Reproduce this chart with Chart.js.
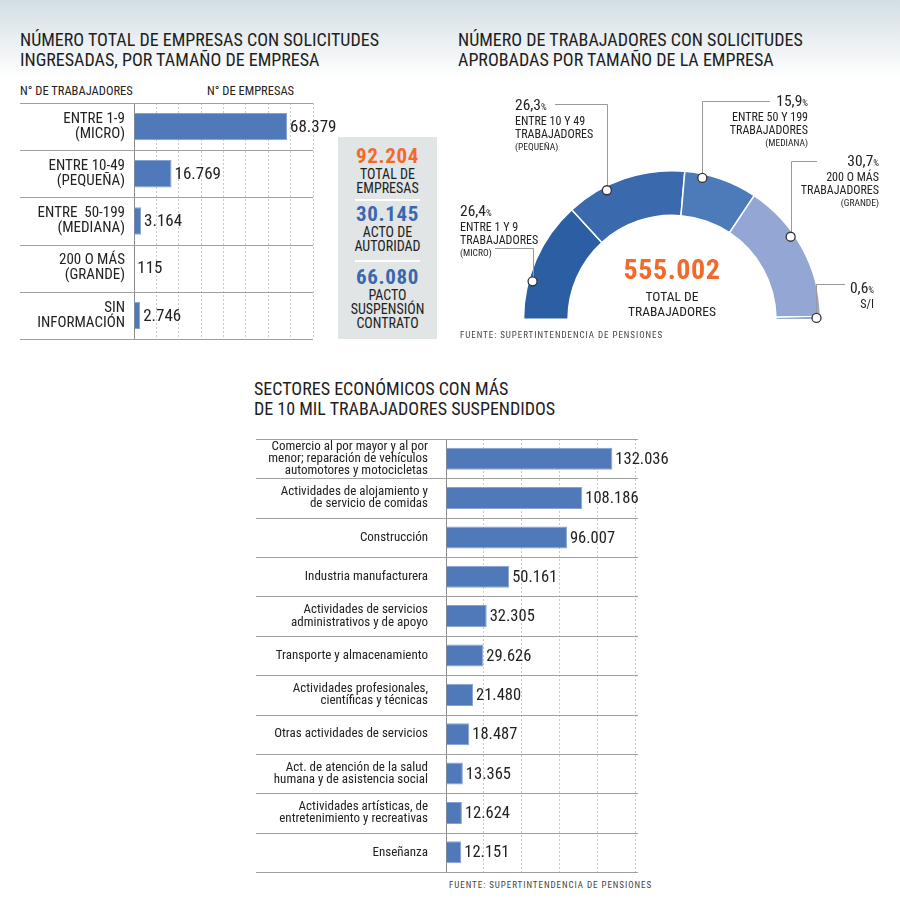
<!DOCTYPE html>
<html lang="es">
<head>
<meta charset="utf-8">
<script src="https://cdn.jsdelivr.net/npm/chart.js@4.4.1/dist/chart.umd.min.js"></script>
<style>
  body { margin: 0; background: #fff; }
  #page { position: relative; width: 900px; height: 908px; overflow: hidden; color: #222;
          font-family: 'Roboto Condensed', 'DejaVu Sans Condensed', sans-serif; }
  .franja { position: absolute; left: 0; top: 0; width: 900px; height: 78px;
            background: linear-gradient(#d3dee4, #ffffff); }
  .titulo { position: absolute; font-size: 18px; line-height: 20px; color: #1e1e1e; white-space: nowrap; }
  .cabecera { position: absolute; font-size: 12.5px; color: #222; white-space: nowrap; }
  .fuente { position: absolute; font-size: 9px; letter-spacing: 0.95px; color: #444; white-space: nowrap; }
  .caja { position: absolute; left: 338px; top: 137px; width: 99px; height: 202px; background: #e1e5e6; }
  .caja .num { position: absolute; left: 0; width: 99px; text-align: center; font-weight: bold; font-size: 21px; line-height: 20px; letter-spacing: 0.6px; }
  .caja .txt { position: absolute; left: 0; width: 99px; text-align: center; font-size: 14px; line-height: 14px; }
  .caja .sep { position: absolute; left: 17px; width: 65px; height: 2px; background: #fff; }
  .etq { position: absolute; white-space: nowrap; color: #222; }
  .etq .p { font-size: 15.5px; line-height: 15px; }
  .etq .p small { font-size: 9px; }
  .etq .l { font-size: 12px; line-height: 13px; }
  .etq .s { font-size: 9.5px; line-height: 12px; }
  .centro { position: absolute; left: 572px; width: 200px; text-align: center; }
  canvas { display: block; }
  .lienzo { position: absolute; }
</style>
</head>
<body>
<div id="page">
  <div class="franja"></div>

  <div class="titulo" style="left:20px; top:30px;">NÚMERO TOTAL DE EMPRESAS CON SOLICITUDES<br>INGRESADAS, POR TAMAÑO DE EMPRESA</div>
  <div class="titulo" style="left:458px; top:30px;">NÚMERO DE TRABAJADORES CON SOLICITUDES<br>APROBADAS POR TAMAÑO DE LA EMPRESA</div>
  <div class="titulo" style="left:254px; top:379px;">SECTORES ECONÓMICOS CON MÁS<br>DE 10 MIL TRABAJADORES SUSPENDIDOS</div>

  <div class="cabecera" style="left:20px; top:83px;">N° DE TRABAJADORES</div>
  <div class="cabecera" style="left:207px; top:83px;">N° DE EMPRESAS</div>

  <div class="lienzo" style="left:20px; top:100px; width:320px; height:242px;"><canvas id="empresas"></canvas></div>
  <div class="caja" id="caja"></div>

  <div class="lienzo" style="left:450px; top:80px; width:450px; height:270px;"><canvas id="trabajadores"></canvas></div>
  <div id="etiquetasDona"></div>
  <div class="centro" style="top:255px; color:#f26a2b; font-weight:bold; font-size:28px; line-height:30px; letter-spacing:0.6px;" id="totalTrab"></div>
  <div class="centro" style="top:289px; font-size:13.5px; line-height:15px;">TOTAL DE<br>TRABAJADORES</div>
  <div class="fuente" style="left:460px; top:330px;">FUENTE: SUPERTINTENDENCIA DE PENSIONES</div>

  <div class="lienzo" style="left:256px; top:436px; width:420px; height:440px;"><canvas id="sectores"></canvas></div>
  <div class="fuente" style="left:449px; top:880px;">FUENTE: SUPERTINTENDENCIA DE PENSIONES</div>
</div>

<script>
// datos: empresas por tamaño
const empresasCategorias = [
  ['ENTRE 1-9', '(MICRO)'],
  ['ENTRE 10-49', '(PEQUEÑA)'],
  ['ENTRE  50-199', '(MEDIANA)'],
  ['200 O MÁS', '(GRANDE)'],
  ['SIN', 'INFORMACIÓN']
];
const empresasValores = [68379, 16769, 3164, 115, 2746];
const empresasEjeMax = 80000;
const empresasEjePaso = 10000;

// datos: recuadro de totales
const resumenTotales = [92204, 30145, 66080];
const resumenEtiquetas = [['TOTAL DE', 'EMPRESAS'], ['ACTO DE', 'AUTORIDAD'], ['PACTO', 'SUSPENSIÓN', 'CONTRATO']];

// datos: trabajadores por tamaño (porcentaje)
const trabajadoresPorcentajes = [26.4, 26.3, 15.9, 30.7, 0.6];
const trabajadoresEtiquetas = [
  ['ENTRE 1 Y 9', 'TRABAJADORES', '(MICRO)'],
  ['ENTRE 10 Y 49', 'TRABAJADORES', '(PEQUEÑA)'],
  ['ENTRE 50 Y 199', 'TRABAJADORES', '(MEDIANA)'],
  ['200 O MÁS', 'TRABAJADORES', '(GRANDE)'],
  ['S/I']
];
const trabajadoresTotal = 555002;

// datos: sectores económicos
const sectoresCategorias = [
  ['Comercio al por mayor y al por', 'menor; reparación de vehículos', 'automotores y motocicletas'],
  ['Actividades de alojamiento y', 'de servicio de comidas'],
  'Construcción',
  'Industria manufacturera',
  ['Actividades de servicios', 'administrativos y de apoyo'],
  'Transporte y almacenamiento',
  ['Actividades profesionales,', 'científicas y técnicas'],
  'Otras actividades de servicios',
  ['Act. de atención de la salud', 'humana y de asistencia social'],
  ['Actividades artísticas, de', 'entretenimiento y recreativas'],
  'Enseñanza'
];
const sectoresValores = [132036, 108186, 96007, 50161, 32305, 29626, 21480, 18487, 13365, 12624, 12151];
const sectoresEjeMax = 150000;
const sectoresEjePaso = 30000;

const FUENTE = "'Roboto Condensed', 'DejaVu Sans Condensed', sans-serif";
const AZUL = '#5079b9';
const NARANJA = '#f26a2b';

Chart.defaults.font.family = FUENTE;
Chart.defaults.color = '#222';

function miles(v) {
  return String(v).replace(/\B(?=(\d{3})+(?!\d))/g, '.');
}
function coma(v) {
  return String(v).replace('.', ',');
}

// lineas de fila que cruzan tambien la zona de etiquetas
const lineasFila = {
  id: 'lineasFila',
  beforeDatasetsDraw(chart, args, opts) {
    const ctx = chart.ctx;
    const y = chart.scales.y;
    const n = chart.data.labels.length;
    const area = chart.chartArea;
    ctx.save();
    ctx.strokeStyle = opts.color || '#9a9a9a';
    ctx.lineWidth = 1;
    for (let i = 0; i <= n; i++) {
      let py;
      if (i === 0) py = area.top;
      else if (i === n) py = area.bottom;
      else py = (y.getPixelForValue(i - 1) + y.getPixelForValue(i)) / 2;
      py = Math.round(py) + 0.5;
      ctx.beginPath();
      ctx.moveTo(opts.left, py);
      ctx.lineTo(area.right + (opts.extra || 0), py);
      ctx.stroke();
    }
    ctx.restore();
  }
};

// valor al lado de cada barra
const valoresBarra = {
  id: 'valoresBarra',
  afterDatasetsDraw(chart, args, opts) {
    const ctx = chart.ctx;
    const meta = chart.getDatasetMeta(0);
    const datos = chart.data.datasets[0].data;
    ctx.save();
    ctx.font = opts.size + 'px ' + FUENTE;
    ctx.fillStyle = '#222';
    ctx.textBaseline = 'middle';
    meta.data.forEach((bar, i) => {
      ctx.fillText(miles(datos[i]), bar.x + 3, bar.y + 1);
    });
    ctx.restore();
  }
};

function barrasHorizontales(id, categorias, valores, cfg) {
  return new Chart(document.getElementById(id), {
    type: 'bar',
    data: {
      labels: categorias,
      datasets: [{
        data: valores,
        backgroundColor: AZUL,
        borderColor: '#86a3d3',
        borderWidth: 1,
        barPercentage: cfg.barPct,
        categoryPercentage: 1
      }]
    },
    options: {
      indexAxis: 'y',
      responsive: true,
      maintainAspectRatio: false,
      animation: false,
      layout: { padding: cfg.padding },
      plugins: {
        legend: { display: false },
        tooltip: { enabled: false },
        lineasFila: { left: cfg.lineLeft, extra: cfg.lineExtra, color: '#a0a0a0' },
        valoresBarra: { size: cfg.valueSize }
      },
      scales: {
        x: {
          min: 0,
          max: cfg.max,
          ticks: { display: false, stepSize: cfg.step },
          grid: {
            drawTicks: false,
            color: c => (c.tick && c.tick.value === 0) ? 'rgba(0,0,0,0)' : '#c9c9c9'
          },
          border: { display: false, dash: [2, 2] },
          afterFit: s => { s.height = 0; s.paddingLeft = 0; s.paddingRight = 0; }
        },
        y: {
          grid: { display: false, drawTicks: false },
          border: { display: true, color: '#8c8c8c', width: 1 },
          ticks: {
            color: '#222',
            autoSkip: false,
            padding: cfg.tickPad,
            font: { size: cfg.labelSize, lineHeight: cfg.labelLine }
          },
          afterFit: s => { s.width = cfg.axisWidth; s.paddingTop = 0; s.paddingBottom = 0; }
        }
      }
    },
    plugins: [lineasFila, valoresBarra]
  });
}

barrasHorizontales('empresas', empresasCategorias, empresasValores, {
  max: empresasEjeMax, step: empresasEjePaso, barPct: 0.58,
  padding: { left: 0, right: 27, top: 3, bottom: 3 },
  axisWidth: 114, tickPad: 9, labelSize: 15, labelLine: 1.0,
  lineLeft: 0, lineExtra: 0, valueSize: 17
});

barrasHorizontales('sectores', sectoresCategorias, sectoresValores, {
  max: sectoresEjeMax, step: sectoresEjePaso, barPct: 0.56,
  padding: { left: 0, right: 41, top: 3, bottom: 4 },
  axisWidth: 190, tickPad: 18, labelSize: 13, labelLine: 0.95,
  lineLeft: 0, lineExtra: 3, valueSize: 16.5
});

// recuadro de totales
(function () {
  const caja = document.getElementById('caja');
  const colores = [NARANJA, '#3b68ad', '#3b68ad'];
  const topsNum = [9, 67, 130];
  const topsSep = [62, 123];
  let html = '';
  resumenTotales.forEach((v, i) => {
    html += '<div class="num" style="top:' + topsNum[i] + 'px;color:' + colores[i] + '">' + miles(v) + '</div>';
    html += '<div class="txt" style="top:' + (topsNum[i] + 21) + 'px">' + resumenEtiquetas[i].join('<br>') + '</div>';
  });
  topsSep.forEach(t => { html += '<div class="sep" style="top:' + t + 'px"></div>'; });
  caja.innerHTML = html;
})();

// dona de trabajadores
const donaColores = ['#2c5ea4', '#3a69ad', '#4d7bba', '#94a6d3', '#2c5ea4'];
const donaMarcas = [0.32, 0.33, 0.25, 0.39, 0.5];
const donaAnclas = [
  { x: 495, y: 248 }, { x: 555, y: 104 }, { x: 770, y: 101 }, { x: 817, y: 161 }, { x: 845, y: 284 }
];
const donaPosEtq = [
  { left: 460, top: 204, align: 'left' },
  { left: 515, top: 98, align: 'left' },
  { right: 808, top: 94, align: 'right' },
  { right: 879, top: 154, align: 'right' },
  { right: 874, top: 281, align: 'right' }
];
const lienzoDona = { x: 450, y: 80 };

const marcasDona = {
  id: 'marcasDona',
  afterDatasetsDraw(chart) {
    const ctx = chart.ctx;
    const meta = chart.getDatasetMeta(0);
    ctx.save();
    meta.data.forEach((arc, i) => {
      const p = arc.getProps(['x', 'y', 'startAngle', 'endAngle', 'outerRadius']);
      const a = p.startAngle + (p.endAngle - p.startAngle) * donaMarcas[i];
      const r = p.outerRadius - 4;
      const mx = p.x + Math.cos(a) * r;
      const my = p.y + Math.sin(a) * r;
      const ax = donaAnclas[i].x - lienzoDona.x;
      const ay = donaAnclas[i].y - lienzoDona.y;
      ctx.strokeStyle = '#9a9a9a';
      ctx.lineWidth = 1;
      ctx.beginPath();
      ctx.moveTo(Math.round(mx) + 0.5, my);
      ctx.lineTo(Math.round(mx) + 0.5, Math.round(ay) + 0.5);
      ctx.lineTo(ax, Math.round(ay) + 0.5);
      ctx.stroke();
      ctx.beginPath();
      ctx.arc(mx, my, 4.5, 0, Math.PI * 2);
      ctx.fillStyle = '#fff';
      ctx.fill();
      ctx.strokeStyle = '#333';
      ctx.lineWidth = 1.3;
      ctx.stroke();
    });
    ctx.restore();
  }
};

new Chart(document.getElementById('trabajadores'), {
  type: 'doughnut',
  data: {
    labels: trabajadoresEtiquetas.map(e => e[0]),
    datasets: [{
      data: trabajadoresPorcentajes,
      backgroundColor: donaColores,
      borderColor: '#fff',
      borderWidth: 1.5
    }]
  },
  options: {
    responsive: true,
    maintainAspectRatio: false,
    animation: false,
    rotation: -90,
    circumference: 180,
    cutout: '70%',
    layout: { padding: { left: 72, right: 78, top: 90, bottom: 30 } },
    plugins: { legend: { display: false }, tooltip: { enabled: false } }
  },
  plugins: [marcasDona]
});

document.getElementById('totalTrab').textContent = miles(trabajadoresTotal);

(function () {
  const cont = document.getElementById('etiquetasDona');
  let html = '';
  trabajadoresPorcentajes.forEach((v, i) => {
    const pos = donaPosEtq[i];
    const lado = pos.align === 'left' ? 'left:' + pos.left + 'px;' : 'right:' + (900 - pos.right) + 'px;';
    html += '<div class="etq" style="' + lado + 'top:' + pos.top + 'px;text-align:' + pos.align + '">';
    html += '<div class="p">' + coma(v) + '<small>%</small></div>';
    trabajadoresEtiquetas[i].forEach(t => {
      const cls = t.charAt(0) === '(' ? 's' : 'l';
      html += '<div class="' + cls + '">' + t + '</div>';
    });
    html += '</div>';
  });
  cont.innerHTML = html;
})();
</script>
</body>
</html>
